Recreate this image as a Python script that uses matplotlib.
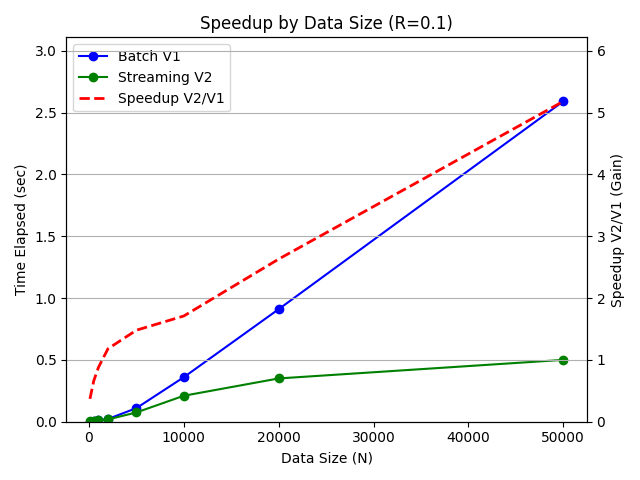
import numpy as np
import matplotlib
matplotlib.use("Agg")
import matplotlib.pyplot as plt

sizes = [100, 500, 1000, 2000, 5000, 10000, 20000, 50000]
batch_v1 = [0.001, 0.005, 0.01, 0.022, 0.11, 0.36, 0.91, 2.59]
stream_v2 = [0.0027, 0.0076, 0.0114, 0.0186, 0.075, 0.21, 0.35, 0.50]
speedup = [0.37, 0.66, 0.88, 1.18, 1.48, 1.71, 2.63, 5.18]

fig, ax = plt.subplots(figsize=(6.4, 4.8), dpi=100)
l1, = ax.plot(sizes, batch_v1, "o-", color="blue", label="Batch V1")
l2, = ax.plot(sizes, stream_v2, "o-", color="green", label="Streaming V2")
ax.set_xlabel("Data Size (N)")
ax.set_ylabel("Time Elapsed (sec)")
ax.set_ylim(0, max(batch_v1) * 1.2)

ax2 = ax.twinx()
l3, = ax2.plot(sizes, speedup, "--", color="red", linewidth=2, label="Speedup V2/V1")
ax2.set_ylabel("Speedup V2/V1 (Gain)")
ax2.set_ylim(0, max(speedup) * 1.2)
ax2.grid(True, axis="y")

ax.legend(handles=[l1, l2, l3], loc="upper left")
ax.set_title("Speedup by Data Size (R=0.1)")
fig.tight_layout()
fig.savefig("out.png")
